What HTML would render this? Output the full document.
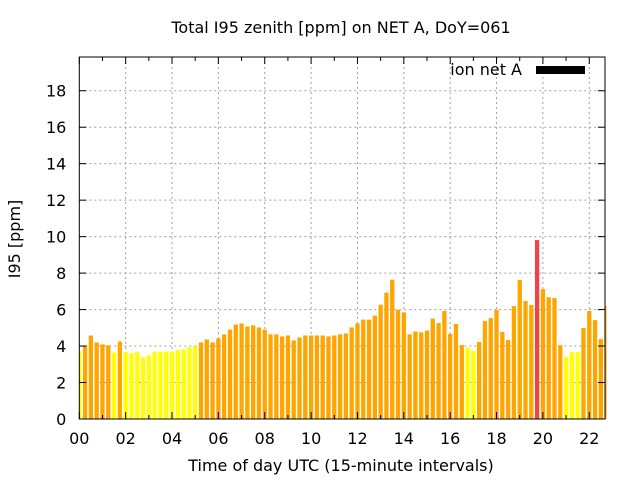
<!DOCTYPE html>
<html><head><meta charset="utf-8"><style>
body{margin:0;background:#fff}
svg{font-family:"DejaVu Sans","Liberation Sans",sans-serif}
</style></head><body>
<svg id="c" width="640" height="480" viewBox="0 0 640 480">
<text x="341" y="33" font-size="16" text-anchor="middle">Total I95 zenith [ppm] on NET A, DoY=061</text>
<text x="341" y="471" font-size="16" text-anchor="middle">Time of day UTC (15-minute intervals)</text>
<text transform="translate(20,239) rotate(-90)" font-size="16" text-anchor="middle">I95 [ppm]</text>
<g id="grid"></g><g id="bars"></g><g id="axes"></g>
<text x="522" y="75" font-size="16" text-anchor="end">ion net A</text>
<rect x="536" y="66" width="49" height="8" fill="#000"/>
</svg>
<script>
const values=[3.7,4.04,4.58,4.2,4.09,4.04,3.65,4.25,3.65,3.6,3.7,3.38,3.49,3.7,3.7,3.7,3.7,3.78,3.82,3.93,3.98,4.2,4.36,4.2,4.42,4.64,4.9,5.18,5.24,5.07,5.13,5.02,4.9,4.64,4.64,4.53,4.58,4.31,4.47,4.58,4.58,4.58,4.58,4.53,4.58,4.64,4.69,5.02,5.24,5.45,5.45,5.67,6.27,6.93,7.64,5.98,5.84,4.64,4.8,4.75,4.85,5.51,5.26,5.92,4.66,5.21,4.05,3.91,3.73,4.22,5.37,5.53,5.99,4.77,4.33,6.19,7.62,6.47,6.25,9.81,7.12,6.68,6.63,4.05,3.4,3.67,3.67,4.99,5.92,5.42,4.38,6.19];
const yTicks=[0,2,4,6,8,10,12,14,16,18];
const xTickLabels=["00","02","04","06","08","10","12","14","16","18","20","22"];
const NS="http://www.w3.org/2000/svg";
const L=79.3,R=605,T=57,B=419,YMAX=19.85,PXH=23.18;
const sx=h=>L+h*PXH, sy=v=>B-v*(B-T)/YMAX;
function mk(tag,attrs,parent){const e=document.createElementNS(NS,tag);for(const k in attrs)e.setAttribute(k,attrs[k]);document.getElementById(parent).appendChild(e);return e;}
yTicks.forEach(v=>{const y=sy(v);
 if(v>0){const g=mk('line',{x1:L,x2:R,y1:y,y2:y,stroke:'#a0a0a0','stroke-dasharray':'2,3'},'grid');
 
 }
 const t=mk('text',{x:L-13,y:y+6,'font-size':16,'text-anchor':'end'},'axes');t.textContent=v;
 
 
 mk('line',{x1:L,x2:L+7,y1:y,y2:y,stroke:'#000'},'axes');mk('line',{x1:R,x2:R-7,y1:y,y2:y,stroke:'#000'},'axes');
});
xTickLabels.forEach((lab,i)=>{const x=sx(i*2);
 if(i>0){const g=mk('line',{x1:x,x2:x,y1:T,y2:B,stroke:'#a0a0a0','stroke-dasharray':'2,3'},'grid');
 
 }
 const t=mk('text',{x:x,y:B+25,'font-size':16,'text-anchor':'middle'},'axes');t.textContent=lab;
 
 
});
for(let h=0;h<=22;h++){const x=sx(h);const len=h%2?4:7;
 mk('line',{x1:x,x2:x,y1:B,y2:B-len,stroke:'#000'},'axes');mk('line',{x1:x,x2:x,y1:T,y2:T+len,stroke:'#000'},'axes');}
const bw=4.3;
values.forEach((v,i)=>{const xc=sx(i*0.25);let x0=Math.max(L,xc-bw/2),x1=Math.min(R+1.5,xc+bw/2);
 const col=v<4?'#ffff00':(v<9?'#ffa500':'#ee4444');
 const r=mk('rect',{x:x0,y:sy(v),width:Math.max(0,x1-x0),height:B-sy(v),fill:col},'bars');
 
 
});
mk('rect',{x:L,y:T,width:R-L,height:B-T,fill:'none',stroke:'#000','stroke-width':1},'axes');
</script>
</body></html>
